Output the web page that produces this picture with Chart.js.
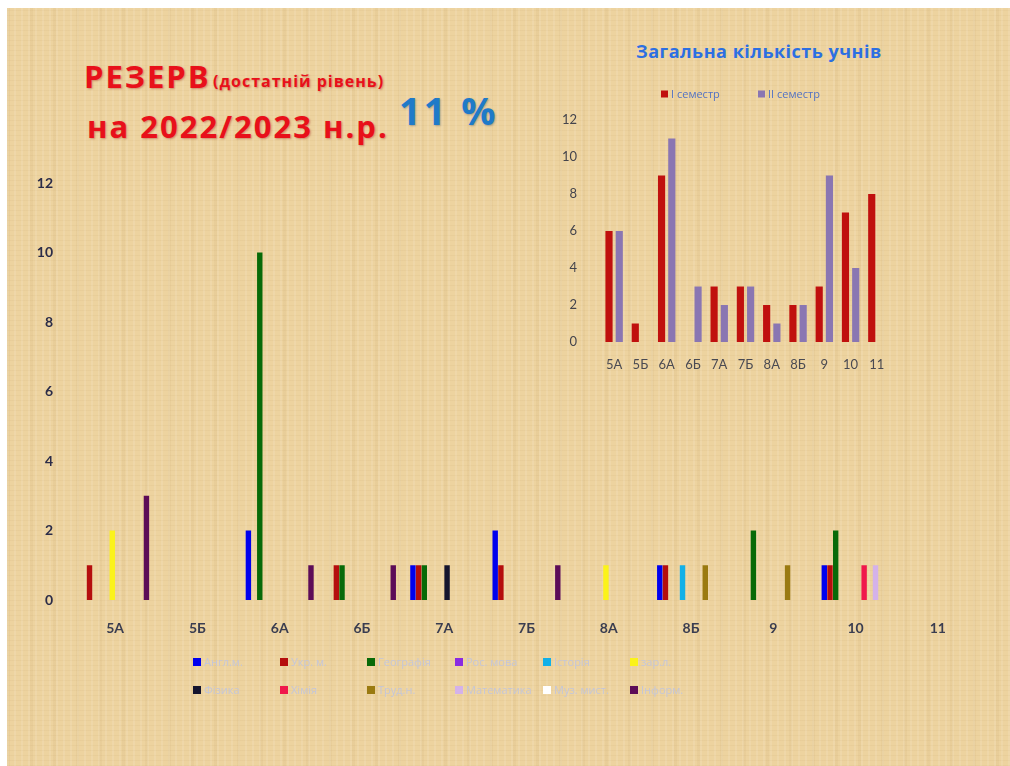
<!DOCTYPE html>
<html>
<head>
<meta charset="utf-8">
<script src="https://cdn.jsdelivr.net/npm/chart.js@4.4.0/dist/chart.umd.min.js"></script>
<style>
    html, body { margin: 0; padding: 0; background: #ffffff; }
    #page {
        position: relative;
        width: 1010px;
        height: 766px;
        overflow: hidden;
    }
    #paper {
        position: absolute;
        left: 7px; top: 8px; right: 0; bottom: 0;
        background-color: #edd39f;
        background-image:
            repeating-linear-gradient(90deg, rgba(255,255,255,0.10) 0px, rgba(255,255,255,0.10) 2px, rgba(0,0,0,0) 2px, rgba(0,0,0,0) 7px),
            repeating-linear-gradient(0deg, rgba(160,120,60,0.06) 0px, rgba(160,120,60,0.06) 1px, rgba(0,0,0,0) 1px, rgba(0,0,0,0) 5px),
            repeating-linear-gradient(90deg, rgba(170,130,70,0.07) 0px, rgba(170,130,70,0.07) 3px, rgba(0,0,0,0) 3px, rgba(0,0,0,0) 23px);
    }
    .txt { position: absolute; white-space: nowrap; line-height: 1; font-family: "Open Sans", sans-serif; font-weight: 700; }
    .red { color: #e8101a; text-shadow: 1px 1px 2px rgba(150,0,0,0.35); }
    #t1 { left: 84px; top: 61px; font-size: 31px; letter-spacing: 2px; }
    #t1b { left: 213px; top: 73px; font-size: 16px; letter-spacing: 1px; }
    #t2 { left: 87px; top: 111px; font-size: 31px; letter-spacing: 2px; }
    #t3 { left: 399px; top: 91px; font-size: 38px; letter-spacing: 3px; color: #1f7ac8; text-shadow: 1px 1px 2px rgba(0,40,100,0.3); }
    #t4 { left: 636px; top: 42px; font-size: 18px; letter-spacing: 0.5px; color: #2c6fe2; }
    #main { position: absolute; left: 0; top: 0; }
    #inset { position: absolute; left: 540px; top: 80px; }
</style>
</head>
<body>
<div id="page">
    <div id="paper"></div>
    <div class="txt red" id="t1">РЕЗЕРВ</div>
    <div class="txt red" id="t1b">(достатній рівень)</div>
    <div class="txt red" id="t2">на 2022/2023 н.р.</div>
    <div class="txt" id="t3">11 %</div>
    <div class="txt" id="t4">Загальна кількість учнів</div>
    <canvas id="main" width="1010" height="766"></canvas>
    <canvas id="inset" width="360" height="310"></canvas>
</div>
<script>
// classes
const classes = ['5А', '5Б', '6А', '6Б', '7А', '7Б', '8А', '8Б', '9', '10', '11'];

// students per subject, by class
const subjects = ['Англ.м.', 'Укр. м.', 'Географія', 'Рос. мова', 'Історія', 'зар.л.',
                  'Фізика', 'Хімія', 'Труд.н.', 'Математика', 'Муз. мист.', 'Інформ.'];
const english   = [0, 0, 2, 0, 1, 2, 0, 1, 0, 1, 0];
const ukrainian = [1, 0, 0, 1, 1, 1, 0, 1, 0, 1, 0];
const geography = [0, 0, 10, 1, 1, 0, 0, 0, 2, 2, 0];
const russian   = [0, 0, 0, 0, 0, 0, 0, 0, 0, 0, 0];
const history   = [0, 0, 0, 0, 0, 0, 0, 1, 0, 0, 0];
const worldLit  = [2, 0, 0, 0, 0, 0, 1, 0, 0, 0, 0];
const physics   = [0, 0, 0, 0, 1, 0, 0, 0, 0, 0, 0];
const chemistry = [0, 0, 0, 0, 0, 0, 0, 0, 0, 1, 0];
const labour    = [0, 0, 0, 0, 0, 0, 0, 1, 1, 0, 0];
const maths     = [0, 0, 0, 0, 0, 0, 0, 0, 0, 1, 0];
const music     = [0, 0, 0, 0, 0, 0, 0, 0, 0, 0, 0];
const informat  = [3, 0, 1, 1, 0, 1, 0, 0, 0, 0, 0];

// inset: total per semester
const semesters = ['I семестр', 'II семестр'];
const semester1 = [6, 1, 9, 0, 3, 3, 2, 2, 3, 7, 8];
const semester2 = [6, 0, 11, 3, 2, 3, 1, 2, 9, 4, 0];

const yTicks = [0, 2, 4, 6, 8, 10, 12];

var subjectValues = [english, ukrainian, geography, russian, history, worldLit,
                     physics, chemistry, labour, maths, music, informat];
var subjectColors = ['#0000ee', '#b50d0d', '#086a08', '#8a2be2', '#12b0e8', '#fbf31a',
                     '#14142e', '#f0184c', '#9a7a10', '#d4b2ea', '#ffffff', '#5c0c58'];

// legend drawn in fixed columns, like the original slide
const gridLegend = {
    id: 'gridLegend',
    afterDraw(chart, args, opts) {
        var ctx = chart.ctx;
        ctx.save();
        ctx.font = opts.font;
        ctx.textBaseline = 'middle';
        ctx.textAlign = 'left';
        chart.data.datasets.forEach(function (ds, i) {
            var col = i % opts.perRow;
            var row = Math.floor(i / opts.perRow);
            var x = opts.xs[col];
            var y = opts.ys[row];
            ctx.fillStyle = ds.backgroundColor;
            ctx.fillRect(x, y - opts.box / 2, opts.box, opts.box);
            ctx.fillStyle = opts.color;
            ctx.fillText(ds.label, x + opts.box + 3, y + 1);
        });
        ctx.restore();
    }
};

var mainCtx = document.getElementById('main').getContext('2d');
new Chart(mainCtx, {
    type: 'bar',
    data: {
        labels: classes,
        datasets: subjects.map(function (name, i) {
            return {
                label: name,
                data: subjectValues[i],
                backgroundColor: subjectColors[i],
                barPercentage: 0.95,
                categoryPercentage: 0.83
            };
        })
    },
    options: {
        responsive: false,
        animation: false,
        layout: { padding: { left: 30, right: 31, top: 183, bottom: 126 } },
        plugins: {
            legend: { display: false },
            tooltip: { enabled: false },
            gridLegend: {
                perRow: 6,
                xs: [193, 280, 367, 455, 543, 630],
                ys: [662, 690],
                box: 8,
                font: '11px "Open Sans", sans-serif',
                color: '#c4c6d8'
            }
        },
        scales: {
            x: {
                grid: { display: false, drawTicks: false },
                border: { display: false },
                ticks: { padding: 20, color: '#3a3d50', font: { family: 'Lato', size: 14, weight: 'bold' } },
                afterFit: function (scale) { scale.height = 40; }
            },
            y: {
                min: 0,
                max: 12,
                afterBuildTicks: function (scale) { scale.ticks = yTicks.map(function (v) { return { value: v }; }); },
                grid: { display: false, drawTicks: false },
                border: { display: false },
                ticks: { padding: 21, color: '#2b2c48', font: { family: 'Lato', size: 14, weight: 'bold' } },
                afterFit: function (scale) { scale.width = 44; }
            }
        }
    },
    plugins: [gridLegend]
});

var insetCtx = document.getElementById('inset').getContext('2d');
new Chart(insetCtx, {
    type: 'bar',
    data: {
        labels: classes,
        datasets: [
            { label: semesters[0], data: semester1, backgroundColor: '#c0100e', barPercentage: 0.7, categoryPercentage: 0.78 },
            { label: semesters[1], data: semester2, backgroundColor: '#8a76b2', barPercentage: 0.7, categoryPercentage: 0.78 }
        ]
    },
    options: {
        responsive: false,
        animation: false,
        layout: { padding: { left: 0, right: 10, top: 40, bottom: 20 } },
        plugins: {
            legend: { display: false },
            tooltip: { enabled: false },
            gridLegend: {
                perRow: 2,
                xs: [121, 218],
                ys: [14],
                box: 7,
                font: '11px "Open Sans", sans-serif',
                color: '#5272c4'
            }
        },
        scales: {
            x: {
                grid: { display: false, drawTicks: false },
                border: { display: false },
                ticks: { padding: 15, color: '#4a4a52', font: { family: 'Lato', size: 13 } },
                afterFit: function (scale) { scale.height = 28; }
            },
            y: {
                min: 0,
                max: 12,
                afterBuildTicks: function (scale) { scale.ticks = yTicks.map(function (v) { return { value: v }; }); },
                grid: { display: false, drawTicks: false },
                border: { display: false },
                ticks: { padding: 24, color: '#44444c', font: { family: 'Lato', size: 13 } },
                afterFit: function (scale) { scale.width = 61; }
            }
        }
    },
    plugins: [gridLegend]
});
</script>
</body>
</html>
